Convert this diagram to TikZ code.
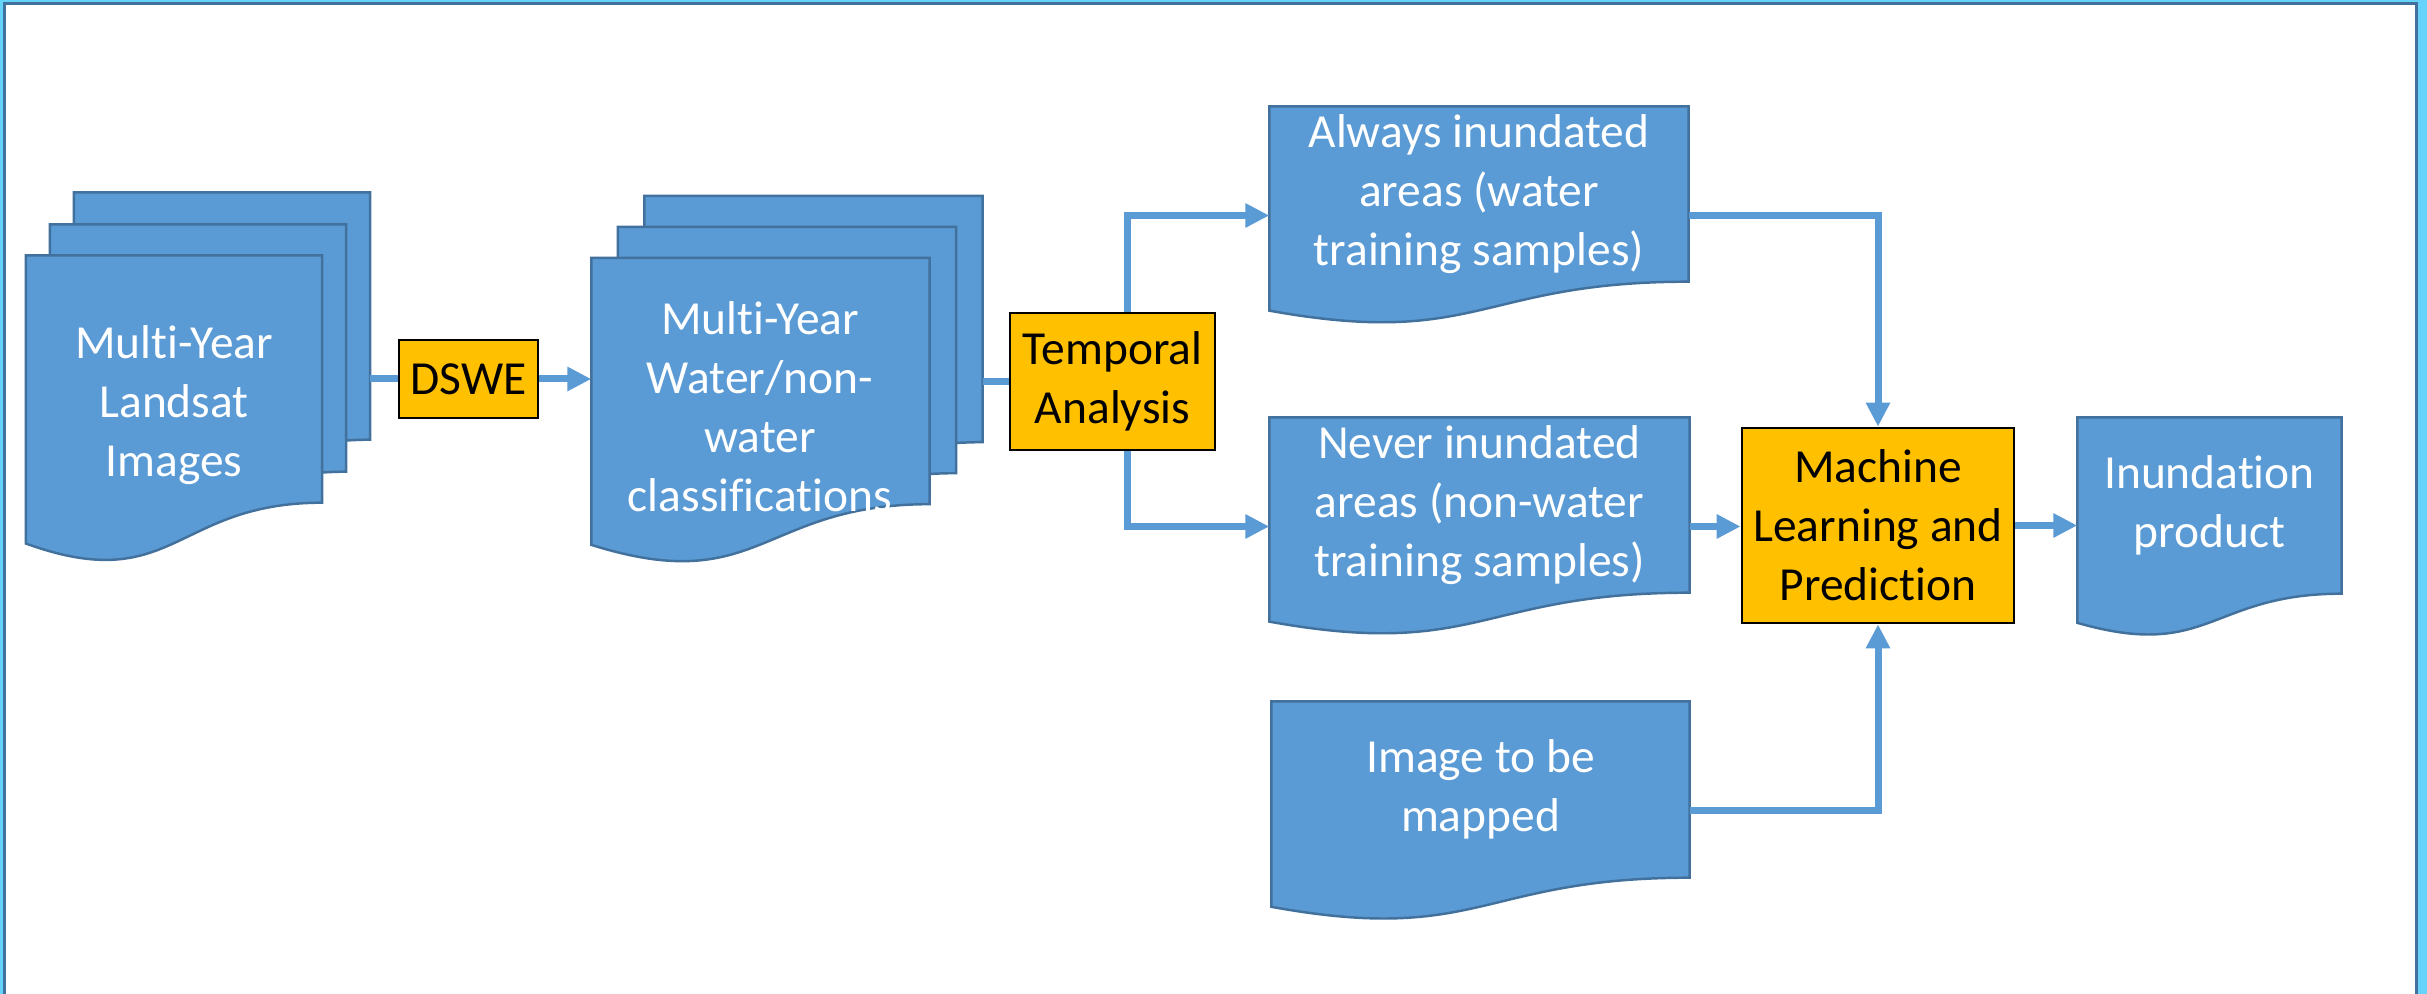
\documentclass[tikz,border=0pt]{standalone}
\usepackage{fontspec}
\setmainfont{Carlito}[Ligatures=NoCommon]
\usetikzlibrary{positioning,arrows.meta,calc,backgrounds}
\definecolor{docBlue}{HTML}{5B9BD5}
\definecolor{docEdge}{HTML}{41719C}
\definecolor{stepYellow}{HTML}{FFC000}
\definecolor{frameSky}{HTML}{66D3FA}

\tikzset{
  docbox/.style={inner sep=0pt, text=white, align=center},
  doctext/.style={inner sep=0pt, text=white, align=center},
  docshape/.style={fill=docBlue, draw=docEdge, line width=0.7pt},
  stepbox/.style={fill=stepYellow, draw=black, line width=0.8pt, inner sep=0pt, align=center},
  flowline/.style={draw=docBlue, line width=0.07cm},
  flow/.style={flowline, -{Triangle[length=2.4mm, width=2.3mm]}},
}

% page outline with the wavy lower edge, hung under node #1
\newcommand{\docpage}[1]{%
  \path[docshape] let \p1=(#1.north west), \p2=(#1.south east), \n1={\y1-\y2} in
    (\p1) -- (\x2,\y1) -- (\p2)
    .. controls ({0.5*\x1+0.5*\x2},\y2) and ({0.5*\x1+0.5*\x2},{\y2-0.381*\n1}) ..
    (\x1,{\y2-0.165*\n1}) -- cycle;}

\begin{document}
\begin{tikzpicture}[font=\fontsize{13.5}{16.8}\selectfont]
  \useasboundingbox (0,0) rectangle (24.27,-9.94);
  % Landsat stack
  \node[docbox, minimum width=2.95cm, minimum height=2.46cm] (land3) at (2.22,-3.16) {};
  \node[docbox, minimum width=2.95cm, minimum height=2.46cm] (land2) at (1.98,-3.48) {};
  \node[docbox, minimum width=2.95cm, minimum height=2.46cm] (land) at (1.74,-3.79) {};
  \node[doctext] (landtext) at (1.74,-4.05) {Multi-Year\\Landsat\\Images};
  % DSWE
  \node[stepbox, minimum width=1.39cm, minimum height=0.78cm] (dswe) at (4.685,-3.79) {DSWE};
  % classification stack
  \node[docbox, minimum width=3.37cm, minimum height=2.45cm] (water3) at (8.135,-3.19) {};
  \node[docbox, minimum width=3.37cm, minimum height=2.45cm] (water2) at (7.87,-3.50) {};
  \node[docbox, minimum width=3.37cm, minimum height=2.45cm] (water) at (7.605,-3.81) {};
  \node[doctext] (watertext) at (7.60,-4.07) {Multi-Year\\Water/non-\\water\\classifications};
  % temporal analysis
  \node[stepbox, minimum width=2.05cm, minimum height=1.37cm] (temporal) at (11.125,-3.815) {Temporal\\Analysis};
  % training samples and image
  \node[docbox, minimum width=4.18cm, minimum height=1.74cm] (always) at (14.79,-1.94) {Always inundated\\areas (water\\training samples)};
  \node[docbox, minimum width=4.19cm, minimum height=1.74cm] (never) at (14.795,-5.05) {Never inundated\\areas (non-water\\training samples)};
  \node[docbox, minimum width=4.17cm, minimum height=1.75cm] (image) at (14.805,-7.895) {Image to be\\mapped};
  % classifier and product
  \node[stepbox, minimum width=2.72cm, minimum height=1.95cm] (machine) at (18.78,-5.255) {Machine\\Learning and\\Prediction};
  \node[docbox, minimum width=2.63cm, minimum height=1.75cm] (inund) at (22.095,-5.055) {Inundation\\product};

  % connectors
  \draw[flowline] (land3.east |- dswe.west) -- (dswe.west);
  \draw[flow] (dswe.east) -- (dswe.east -| water.west);
  \draw[flowline] (water3.east |- temporal.west) -- (temporal.west);
  \draw[flow] ([xshift=1.45mm]temporal.north) |- ([yshift=-2.15mm]always.west);
  \draw[flow] ([xshift=1.45mm]temporal.south) |- ([yshift=-2.15mm]never.west);
  \draw[flow] ([yshift=-2.15mm]always.east) -| (machine.north);
  \draw[flow] ([yshift=-2.15mm]never.east) -- ([yshift=-2.15mm]never.east -| machine.west);
  \draw[flow] ([yshift=-2.15mm]image.east) -| (machine.south);
  \draw[flow] (machine.east) -- (machine.east -| inund.west);

  \begin{scope}[on background layer]
    % slide frame
    \fill[frameSky] (0,0) rectangle (24.27,-9.94);
    \filldraw[fill=white, draw=docEdge, line width=0.03cm] (0.045,-10.1) -- (0.045,-0.04) -- (24.165,-0.04) -- (24.165,-10.1);
    % page shapes
    \docpage{land3} \docpage{land2} \docpage{land}
    \docpage{water3} \docpage{water2} \docpage{water}
    \docpage{always} \docpage{never} \docpage{image} \docpage{inund}
  \end{scope}
\end{tikzpicture}
\end{document}
